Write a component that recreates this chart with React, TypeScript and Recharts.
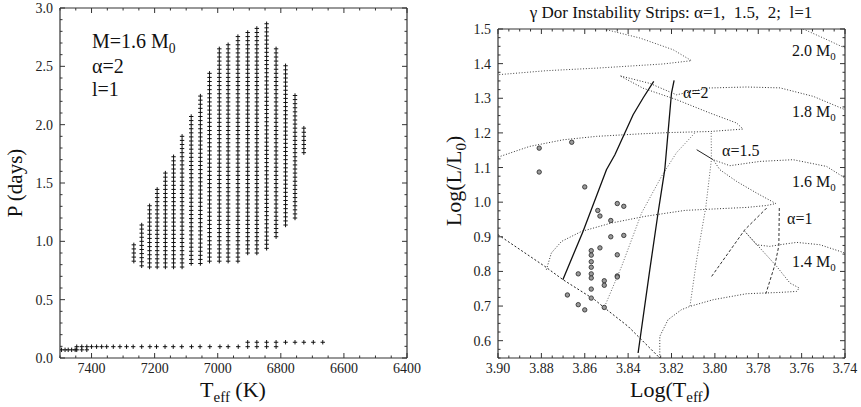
import React from 'react';
import { ScatterChart, Scatter, XAxis, YAxis } from 'recharts';

const FONT = '"Liberation Serif", "Times New Roman", Times, serif';

// ---------- left panel: M=1.6, alpha=2, l=1 unstable g modes ----------
// columns of the unstable region: Teff (K), shortest and longest unstable period (days)
const colTeff = [7266, 7241, 7216, 7192, 7166, 7140, 7113, 7084, 7055, 7026, 6995, 6967, 6936, 6905, 6876, 6845, 6815, 6785, 6755, 6727];
const colPmin = [0.83, 0.79, 0.78, 0.78, 0.78, 0.78, 0.78, 0.81, 0.81, 0.83, 0.83, 0.83, 0.83, 0.9, 0.9, 0.94, 1.04, 1.14, 1.2, 1.76];
const colPmax = [0.99, 1.16, 1.31, 1.46, 1.6, 1.75, 1.91, 2.08, 2.27, 2.45, 2.65, 2.71, 2.76, 2.79, 2.85, 2.87, 2.65, 2.53, 2.26, 2.0];
const modeSpacing = 0.035; // period spacing between consecutive modes

// short period modes along the bottom
const lowModes: [number, number][] = [
  [7495, 0.07], [7484, 0.07], [7474, 0.07], [7463, 0.07], [7452, 0.07],
  [7447, 0.07], [7431, 0.07], [7415, 0.07],
  [7447, 0.097], [7431, 0.097], [7415, 0.097], [7400, 0.097], [7384, 0.097], [7368, 0.097],
  [7352, 0.097], [7331, 0.097], [7310, 0.097], [7289, 0.097], [7268, 0.097], [7241, 0.097],
  [7215, 0.097], [7194, 0.097], [7167, 0.097], [7141, 0.097], [7114, 0.097], [7083, 0.097],
  [7056, 0.097], [7025, 0.097], [6993, 0.097], [6967, 0.097], [6935, 0.097], [6905, 0.097],
  [6876, 0.097], [6845, 0.097], [6815, 0.097],
  [6905, 0.135], [6876, 0.135], [6845, 0.135], [6815, 0.135], [6785, 0.135], [6755, 0.135],
  [6727, 0.135], [6697, 0.135], [6667, 0.135],
];

const stripModes: { x: number; y: number }[] = [];
colTeff.forEach((t, i) => {
  for (let p = colPmin[i]; p <= colPmax[i] + 1e-6; p += modeSpacing) stripModes.push({ x: t, y: p });
});
const lowModePts = lowModes.map(([x, y]) => ({ x, y }));

// ---------- right panel: HR diagram, log Teff vs log L ----------
const zams: [number, number][] = [[3.9, 0.906], [3.8784, 0.8145], [3.87, 0.776], [3.8554, 0.7182], [3.8508, 0.6943], [3.84, 0.6412], [3.8254, 0.55]];
const track20: [number, number][] = [[3.85, 1.498], [3.8346, 1.474], [3.8192, 1.44], [3.8108, 1.4085], [3.8239, 1.399], [3.8546, 1.387], [3.8777, 1.3796], [3.9, 1.368]];
const track20b: [number, number][] = [[3.7593, 1.5], [3.75, 1.474], [3.74, 1.445]];
const track18: [number, number][] = [
  [3.9, 1.13], [3.8854, 1.161], [3.87, 1.18], [3.8546, 1.19], [3.835, 1.197], [3.8209, 1.201], [3.8023, 1.204], [3.787, 1.211],
  [3.79, 1.2286], [3.8023, 1.2574], [3.8177, 1.296], [3.8331, 1.329], [3.8438, 1.365],
  [3.83, 1.343], [3.8177, 1.31], [3.8031, 1.3296], [3.7854, 1.3325], [3.77, 1.33], [3.7546, 1.3054], [3.74, 1.267],
];
const track16: [number, number][] = [
  [3.8777, 0.805], [3.8754, 0.8532], [3.8707, 0.8867], [3.8615, 0.9155], [3.8477, 0.9398], [3.8323, 0.9589], [3.8138, 0.9762],
  [3.8008, 0.9802], [3.7854, 0.9848], [3.7761, 0.9904], [3.7719, 0.996],
  [3.7808, 1.0264], [3.79, 1.06], [3.7977, 1.0937], [3.8008, 1.1226],
  [3.7931, 1.1053], [3.7792, 1.1177], [3.7639, 1.1226], [3.7485, 1.1032], [3.74, 1.0697],
];
const track14: [number, number][] = [
  [3.8254, 0.55], [3.8254, 0.6124], [3.8216, 0.6606], [3.8154, 0.6895], [3.8115, 0.699], [3.8008, 0.7183], [3.7854, 0.7356],
  [3.77, 0.7394], [3.7623, 0.7423], [3.7611, 0.7521], [3.7654, 0.7665], [3.7715, 0.8145], [3.7792, 0.8676], [3.7862, 0.9155],
  [3.7808, 0.8771], [3.7747, 0.8722], [3.77, 0.8771], [3.7623, 0.8838], [3.7516, 0.8771], [3.74, 0.8532],
];
const alpha2Blue: [number, number][] = [[3.8701, 0.7761], [3.8608, 0.9155], [3.85, 1.0937], [3.8461, 1.137], [3.8377, 1.2525], [3.8331, 1.3008], [3.8282, 1.3487]];
const alpha2Red: [number, number][] = [[3.8354, 0.5644], [3.83, 0.805], [3.8262, 0.9687], [3.8231, 1.0937], [3.82, 1.3152], [3.8188, 1.3516]];
const alpha15Blue: [number, number][] = [[3.8093, 1.1995], [3.8177, 1.1428], [3.8246, 1.0744], [3.8338, 0.9687], [3.843, 0.8145], [3.8508, 0.699]];
const alpha15Red: [number, number][] = [[3.8017, 1.1997], [3.8016, 1.1226], [3.8042, 0.985], [3.8084, 0.8338], [3.8115, 0.699]];
const alpha15Hook: [number, number][] = [[3.8084, 1.1515], [3.8008, 1.1226]];
const alpha1Blue: [number, number][] = [[3.8015, 0.7856], [3.7862, 0.9204], [3.7761, 0.9831]];
const alpha1Red: [number, number][] = [[3.7703, 0.9831], [3.7705, 0.8743], [3.7723, 0.8194], [3.7765, 0.7356]];

// observed gamma Dor stars
const stars: [number, number][] = [
  [3.881, 1.156], [3.866, 1.173], [3.881, 1.087], [3.86, 1.044], [3.845, 0.996], [3.842, 0.988], [3.854, 0.976],
  [3.853, 0.96], [3.848, 0.947], [3.848, 0.9], [3.842, 0.904], [3.853, 0.868], [3.857, 0.86], [3.857, 0.847],
  [3.857, 0.828], [3.857, 0.812], [3.857, 0.793], [3.857, 0.781], [3.857, 0.749], [3.857, 0.723], [3.863, 0.793],
  [3.851, 0.773], [3.851, 0.76], [3.845, 0.848], [3.845, 0.787], [3.845, 0.784], [3.868, 0.732], [3.863, 0.704],
  [3.86, 0.689], [3.851, 0.696],
];

const curves = [
  { name: 'zams', data: zams, stroke: '#222', dash: '2 2', width: 1 },
  { name: 'm20', data: track20, stroke: '#444', dash: '1 1.8', width: 1 },
  { name: 'm20b', data: track20b, stroke: '#444', dash: '1 1.8', width: 1 },
  { name: 'm18', data: track18, stroke: '#333', dash: '1 1.8', width: 1 },
  { name: 'm16', data: track16, stroke: '#333', dash: '1 1.8', width: 1 },
  { name: 'm14', data: track14, stroke: '#333', dash: '1 1.8', width: 1 },
  { name: 'a15b', data: alpha15Blue, stroke: '#666', dash: '1 1.8', width: 1 },
  { name: 'a15r', data: alpha15Red, stroke: '#666', dash: '1 1.8', width: 1 },
  { name: 'a15h', data: alpha15Hook, stroke: '#222', dash: '', width: 1 },
  { name: 'a1b', data: alpha1Blue, stroke: '#333', dash: '3 2', width: 1 },
  { name: 'a1r', data: alpha1Red, stroke: '#333', dash: '3 2', width: 1 },
  { name: 'a2b', data: alpha2Blue, stroke: '#111', dash: '', width: 1.3 },
  { name: 'a2r', data: alpha2Red, stroke: '#111', dash: '', width: 1.3 },
];

const toPts = (arr: [number, number][]) => arr.map(([x, y]) => ({ x, y }));

// ---------- axes ----------
const range = (a: number, b: number, step: number) => {
  const n = Math.round((b - a) / step);
  return Array.from({ length: n + 1 }, (_, i) => Math.round((a + i * step) * 10000) / 10000);
};

const leftXMajor = [6400, 6600, 6800, 7000, 7200, 7400];
const leftYMajor = [0, 0.5, 1, 1.5, 2, 2.5, 3];
const rightXMajor = [3.74, 3.76, 3.78, 3.8, 3.82, 3.84, 3.86, 3.88, 3.9];
const rightYMajor = [0.6, 0.7, 0.8, 0.9, 1.0, 1.1, 1.2, 1.3, 1.4, 1.5];

const isMajor = (v: number, majors: number[]) => majors.some((m) => Math.abs(m - v) < 1e-6);

type Side = 'bottom' | 'top' | 'left' | 'right';
const makeTick = (side: Side, majors: number[], fmt?: (v: number) => string) => (props: any) => {
  const { x, y, payload } = props;
  const major = isMajor(payload.value, majors);
  const len = major ? 5 : 2.5;
  let l = { x1: x, y1: y, x2: x, y2: y };
  if (side === 'bottom') l.y2 = y - len;
  if (side === 'top') l.y2 = y + len;
  if (side === 'left') l.x2 = x + len;
  if (side === 'right') l.x2 = x - len;
  return (
    <g>
      <line {...l} stroke="#333" strokeWidth={1} />
      {fmt && major && side === 'bottom' && (
        <text x={x} y={y + 15} textAnchor="middle" fontSize={14} fontFamily={FONT} fill="#222">{fmt(payload.value)}</text>
      )}
      {fmt && major && side === 'left' && (
        <text x={x - 7} y={y + 5} textAnchor="end" fontSize={14} fontFamily={FONT} fill="#222">{fmt(payload.value)}</text>
      )}
    </g>
  );
};

const frame = { stroke: '#333', strokeWidth: 1.2 };

// axes are 1px thick (a 0px axis is not drawn); margins are reduced by 1 to compensate
const frameAxes = (xd: [number, number], yd: [number, number], xt: number[], yt: number[], xm: number[], ym: number[], fx: (v: number) => string, fy: (v: number) => string) => [
  <XAxis key="b" xAxisId="b" type="number" dataKey="x" domain={xd} reversed allowDataOverflow ticks={xt} interval={0} height={1}
    tickSize={0} tickMargin={0} tickLine={false} axisLine={frame} tick={makeTick('bottom', xm, fx)} />,
  <XAxis key="t" xAxisId="t" orientation="top" type="number" dataKey="x" domain={xd} reversed allowDataOverflow ticks={xt} interval={0} height={1}
    tickSize={0} tickMargin={0} tickLine={false} axisLine={frame} tick={makeTick('top', xm)} />,
  <YAxis key="l" yAxisId="l" type="number" dataKey="y" domain={yd} allowDataOverflow ticks={yt} interval={0} width={1}
    tickSize={0} tickMargin={0} tickLine={false} axisLine={frame} tick={makeTick('left', ym, fy)} />,
  <YAxis key="r" yAxisId="r" orientation="right" type="number" dataKey="y" domain={yd} allowDataOverflow ticks={yt} interval={0} width={1}
    tickSize={0} tickMargin={0} tickLine={false} axisLine={frame} tick={makeTick('right', ym)} />,
];

const Cross = (p: any) => (
  <path d={`M${p.cx - 2.2},${p.cy}H${p.cx + 2.2}M${p.cx},${p.cy - 2.2}V${p.cy + 2.2}`} stroke="#111" strokeWidth={1} fill="none" />
);
const Ring = (p: any) => <circle cx={p.cx} cy={p.cy} r={2.2} fill="#9a9a9a" stroke="#333" strokeWidth={0.9} />;
const NoDot = () => <g />;

const Sub = ({ children }: { children: React.ReactNode }) => (
  <span style={{ fontSize: '0.68em', position: 'relative', top: '0.35em' }}>{children}</span>
);

const txt = (left: number, top: number, size: number): React.CSSProperties => ({
  position: 'absolute', left, top, fontSize: size, lineHeight: `${size}px`, fontFamily: FONT, color: '#111', whiteSpace: 'nowrap',
});

export default function App() {
  return (
    <div style={{ position: 'absolute', left: 0, top: 0, width: 861, height: 407, background: '#fff', overflow: 'hidden', fontFamily: FONT }}>
      <div style={{ position: 'absolute', left: 0, top: 0 }}>
        <ScatterChart width={430} height={407} margin={{ top: 7, right: 22, bottom: 48, left: 59 }}>
          {frameAxes([6400, 7500], [0, 3], range(6400, 7500, 50), range(0, 3, 0.1), leftXMajor, leftYMajor, (v) => v.toFixed(0), (v) => v.toFixed(1))}
          <Scatter xAxisId="b" yAxisId="l" data={stripModes} shape={Cross} isAnimationActive={false} />
          <Scatter xAxisId="b" yAxisId="l" data={lowModePts} shape={Cross} isAnimationActive={false} />
        </ScatterChart>
      </div>
      <div style={{ position: 'absolute', left: 430, top: 0 }}>
        <ScatterChart width={431} height={407} margin={{ top: 28, right: 15, bottom: 48, left: 67 }}>
          {frameAxes([3.74, 3.9], [0.55, 1.5], range(3.74, 3.9, 0.005), range(0.55, 1.5, 0.025), rightXMajor, rightYMajor, (v) => v.toFixed(2), (v) => v.toFixed(1))}
          {curves.map((c) => (
            <Scatter key={c.name} xAxisId="b" yAxisId="l" data={toPts(c.data)} shape={NoDot} isAnimationActive={false}
              line={{ stroke: c.stroke, strokeWidth: c.width, strokeDasharray: c.dash }} />
          ))}
          <Scatter xAxisId="b" yAxisId="l" data={toPts(stars)} shape={Ring} isAnimationActive={false} />
        </ScatterChart>
      </div>

      {/* left panel texts */}
      <div style={txt(92, 31, 20)}>M=1.6 M<Sub>0</Sub></div>
      <div style={txt(92, 56, 20)}>α=2</div>
      <div style={txt(92, 79, 20)}>l=1</div>
      <div style={{ ...txt(15, 183, 21), transform: 'translate(-50%, -50%) rotate(-90deg)' }}>P (days)</div>
      <div style={{ ...txt(233, 391, 22), transform: 'translate(-50%, -50%)' }}>T<Sub>eff</Sub> (K)</div>

      {/* right panel texts */}
      <div style={{ ...txt(671, 12, 17), transform: 'translate(-50%, -50%)' }}>γ Dor Instability Strips: α=1,&nbsp; 1.5,&nbsp; 2;&nbsp; l=1</div>
      <div style={{ ...txt(455, 181, 22), transform: 'translate(-50%, -50%) rotate(-90deg)' }}>Log(L/L<Sub>0</Sub>)</div>
      <div style={{ ...txt(670, 391, 22), transform: 'translate(-50%, -50%)' }}>Log(T<Sub>eff</Sub>)</div>
      <div style={txt(792, 43, 16)}>2.0 M<Sub>0</Sub></div>
      <div style={txt(792, 104, 16)}>1.8 M<Sub>0</Sub></div>
      <div style={txt(792, 174, 16)}>1.6 M<Sub>0</Sub></div>
      <div style={txt(792, 254, 16)}>1.4 M<Sub>0</Sub></div>
      <div style={txt(683, 85, 16)}>α=2</div>
      <div style={txt(722, 143, 16)}>α=1.5</div>
      <div style={txt(787, 211, 16)}>α=1</div>
    </div>
  );
}
